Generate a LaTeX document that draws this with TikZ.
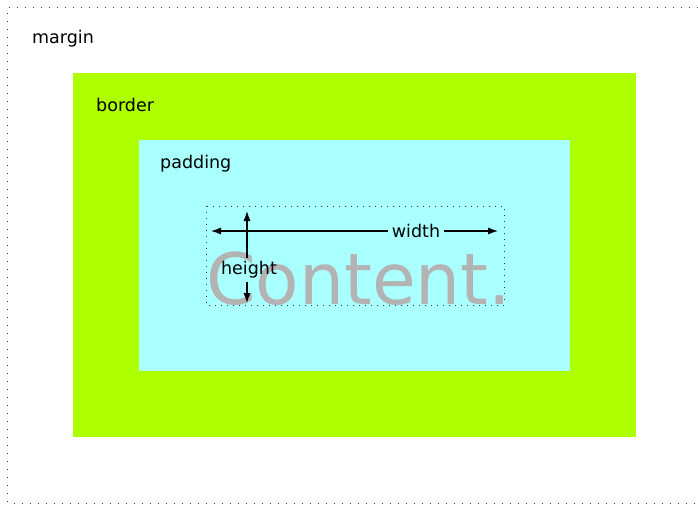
\documentclass[tikz,border=0pt]{standalone}
\usepackage{fontspec}
\setmainfont{DejaVu Sans}
\usetikzlibrary{arrows.meta}
\definecolor{bordergreen}{RGB}{174,255,0}
\definecolor{padcyan}{RGB}{170,255,255}
\definecolor{contentgray}{RGB}{179,179,179}
\tikzset{
  dotline/.style={draw=black!80, line width=0.9pt, dash pattern=on 1pt off 7pt},
  lblfont/.style={font=\fontsize{17.5}{20}\selectfont},
  lbl/.style={anchor=west, inner sep=0pt, lblfont},
  arrline/.style={line width=1.1pt},
  tipend/.style={-{Latex[length=10pt,width=7pt]}},
}
\begin{document}
\begin{tikzpicture}[x=1pt,y=-1pt]
\useasboundingbox (0,0) rectangle (698,504);
% margin outline
\draw[dotline] (698,7.5) -- (7.5,7.5) -- (7.5,503) -- (698,503);
% border
\fill[bordergreen] (73,73) rectangle (636,437);
% padding
\fill[padcyan] (139,140) rectangle (570,371);
% content
\node[inner sep=0pt, anchor=base west, text=contentgray, font=\fontsize{71}{71}\selectfont] (ctext) at (206,304) {Content.};
\draw[dotline, dash pattern=on 1pt off 5pt] (206,206) rectangle (504,305);
% dimension labels
\node[inner sep=0pt, lblfont] (wlbl) at (416,231) {width};
\node[inner sep=0pt, lblfont] (hlbl) at (249,270) {height};
\node[coordinate] (wl) at (211,231) {};
\node[coordinate] (wr) at (498,231) {};
\node[coordinate] (ht) at (247,211) {};
\node[coordinate] (hb) at (247,303) {};
\draw[arrline, tipend] (wlbl.west |- wl) ++(-4,0) -- (wl);
\draw[arrline, tipend] (wlbl.east |- wr) ++(4,0) -- (wr);
\draw[arrline, tipend] (ht |- hlbl.north) ++(0,-3) -- (ht);
\draw[arrline, tipend] (hb |- hlbl.south) ++(0,3) -- (hb);
% labels
\node[lbl] (mlbl) at (32,39) {margin};
\node[lbl] (blbl) at (96,105) {border};
\node[lbl] (plbl) at (160,164) {padding};
\end{tikzpicture}
\end{document}
